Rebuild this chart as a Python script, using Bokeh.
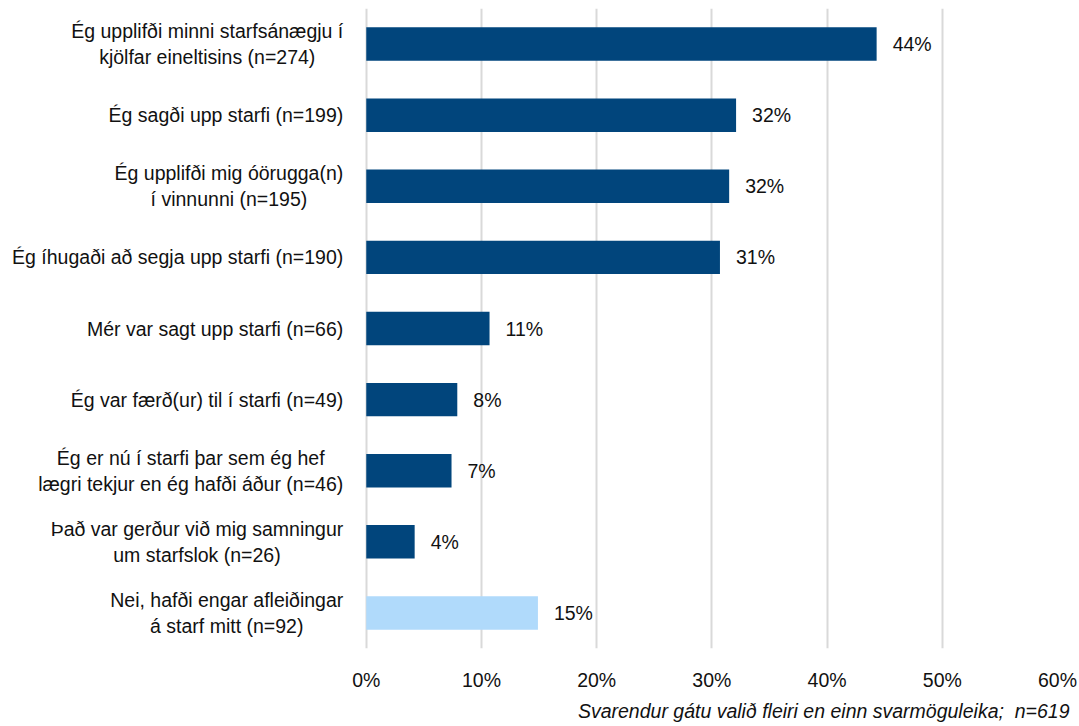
from bokeh.plotting import figure
from bokeh.models import FactorRange, Range1d, ColumnDataSource, Title, FixedTicker
from bokeh.core.properties import value
from bokeh.embed import file_html
from bokeh.resources import INLINE

# ---- data ----
label_lines = [
    ["Ég upplifði minni starfsánægju í", "kjölfar eineltisins (n=274)"],
    ["Ég sagði upp starfi (n=199)"],
    ["Ég upplifði mig óörugga(n)", "í vinnunni (n=195)"],
    ["Ég íhugaði að segja upp starfi (n=190)"],
    ["Mér var sagt upp starfi (n=66)"],
    ["Ég var færð(ur) til í starfi (n=49)"],
    ["Ég er nú í starfi þar sem ég hef", "lægri tekjur en ég hafði áður (n=46)"],
    ["Það var gerður við mig samningur", "um starfslok (n=26)"],
    ["Nei, hafði engar afleiðingar", "á starf mitt (n=92)"],
]
categories = ["\n".join(l) for l in label_lines]
percent = [44.3, 32.1, 31.5, 30.7, 10.7, 7.9, 7.4, 4.2, 14.9]
pct_labels = ["44%", "32%", "32%", "31%", "11%", "8%", "7%", "4%", "15%"]
bar_colors = ["#01457C"] * 8 + ["#B0DAFB"]
x_ticks = [0, 10, 20, 30, 40, 50, 60]
x_tick_labels = ["0%", "10%", "20%", "30%", "40%", "50%", "60%"]
footnote = "Svarendur gátu valið fleiri en einn svarmöguleika; \u00a0n=619"

FONT = "Liberation Sans, Arial, sans-serif"
FPX = 19.5
FS = f"{FPX}px"
TXT = "#111111"

# Arial / Liberation Sans advance widths (1/1000 em) for centring multi-line labels
_W = {" ": 278, "(": 333, ")": 333, "=": 584, "%": 889, ";": 278, ",": 278, ".": 278}
_W.update({d: 556 for d in "0123456789"})
_W.update(dict(zip("abcdefghijklmnopqrstuvwxyz",
                   [556, 556, 500, 556, 556, 278, 556, 556, 222, 222, 500, 222, 833,
                    556, 556, 556, 556, 333, 500, 278, 556, 500, 722, 500, 500, 500])))
_W.update(dict(zip("ABCDEFGHIJKLMNOPQRSTUVWXYZ",
                   [667, 667, 722, 722, 667, 611, 778, 722, 278, 500, 667, 556, 833,
                    722, 778, 667, 778, 722, 667, 611, 722, 667, 944, 667, 667, 611])))
_W.update({"á": 556, "é": 556, "í": 278, "ó": 556, "ú": 556, "ý": 500, "ö": 556,
           "æ": 889, "ð": 556, "þ": 556, "É": 667, "Þ": 667, "Ð": 722})


def text_width(s):
    return sum(_W.get(c, 556) for c in s) / 1000.0 * FPX


STANDOFF = 23
LINE_GAP = 13

lab_cat, lab_txt, lab_dx, lab_dy = [], [], [], []
for cat, lines in zip(categories, label_lines):
    widths = [text_width(l) for l in lines]
    block = max(widths)
    n = len(lines)
    for i, (l, w) in enumerate(zip(lines, widths)):
        lab_cat.append(cat)
        lab_txt.append(l)
        lab_dx.append(-(STANDOFF + (block - w) / 2.0))
        lab_dy.append((i - (n - 1) / 2.0) * 2 * LINE_GAP)

src = ColumnDataSource(dict(cat=categories, pct=percent, lab=pct_labels, color=bar_colors))
lab_src = ColumnDataSource(dict(cat=lab_cat, txt=lab_txt, x=[0] * len(lab_cat), dx=lab_dx, dy=lab_dy))

# the frame spans the label column too; the value axis runs 0-60 %
p = figure(
    width=1079, height=726,
    y_range=FactorRange(factors=list(reversed(categories))),
    x_range=Range1d(-31.75, 60.0),
    output_backend="svg", toolbar_location=None,
    min_border_left=0, min_border_right=22, min_border_top=8, min_border_bottom=78,
)
p.outline_line_color = None
p.background_fill_color = "white"

p.hbar(y="cat", right="pct", left=0, height=0.47, color="color", line_color=None, source=src)
p.text(x="pct", y="cat", text="lab", source=src, x_offset=16,
       text_baseline="middle", text_align="left",
       text_font=value(FONT), text_font_size=FS, text_color=TXT)
p.text(x="x", y="cat", text="txt", source=lab_src, x_offset="dx", y_offset="dy",
       text_baseline="middle", text_align="right",
       text_font=value(FONT), text_font_size=FS, text_color=TXT)

p.ygrid.grid_line_color = None
p.xgrid.grid_line_color = "#D9D9D9"
p.xgrid.grid_line_width = 2

p.yaxis.visible = False
p.xaxis.ticker = FixedTicker(ticks=x_ticks)
p.xaxis.major_label_overrides = {t: l for t, l in zip(x_ticks, x_tick_labels)}
p.xaxis.axis_line_color = None
p.xaxis.major_tick_line_color = None
p.xaxis.minor_tick_line_color = None
p.xaxis.major_tick_out = 0
p.xaxis.major_tick_in = 0
p.xaxis.major_label_text_font = FONT
p.xaxis.major_label_text_font_size = FS
p.xaxis.major_label_text_color = TXT
p.xaxis.major_label_standoff = 20

p.add_layout(Title(text=footnote, align="right", offset=-12, standoff=9,
                   text_font=FONT, text_font_size=FS, text_font_style="italic",
                   text_color=TXT), "below")

open("out.html", "w").write(file_html(p, INLINE))
